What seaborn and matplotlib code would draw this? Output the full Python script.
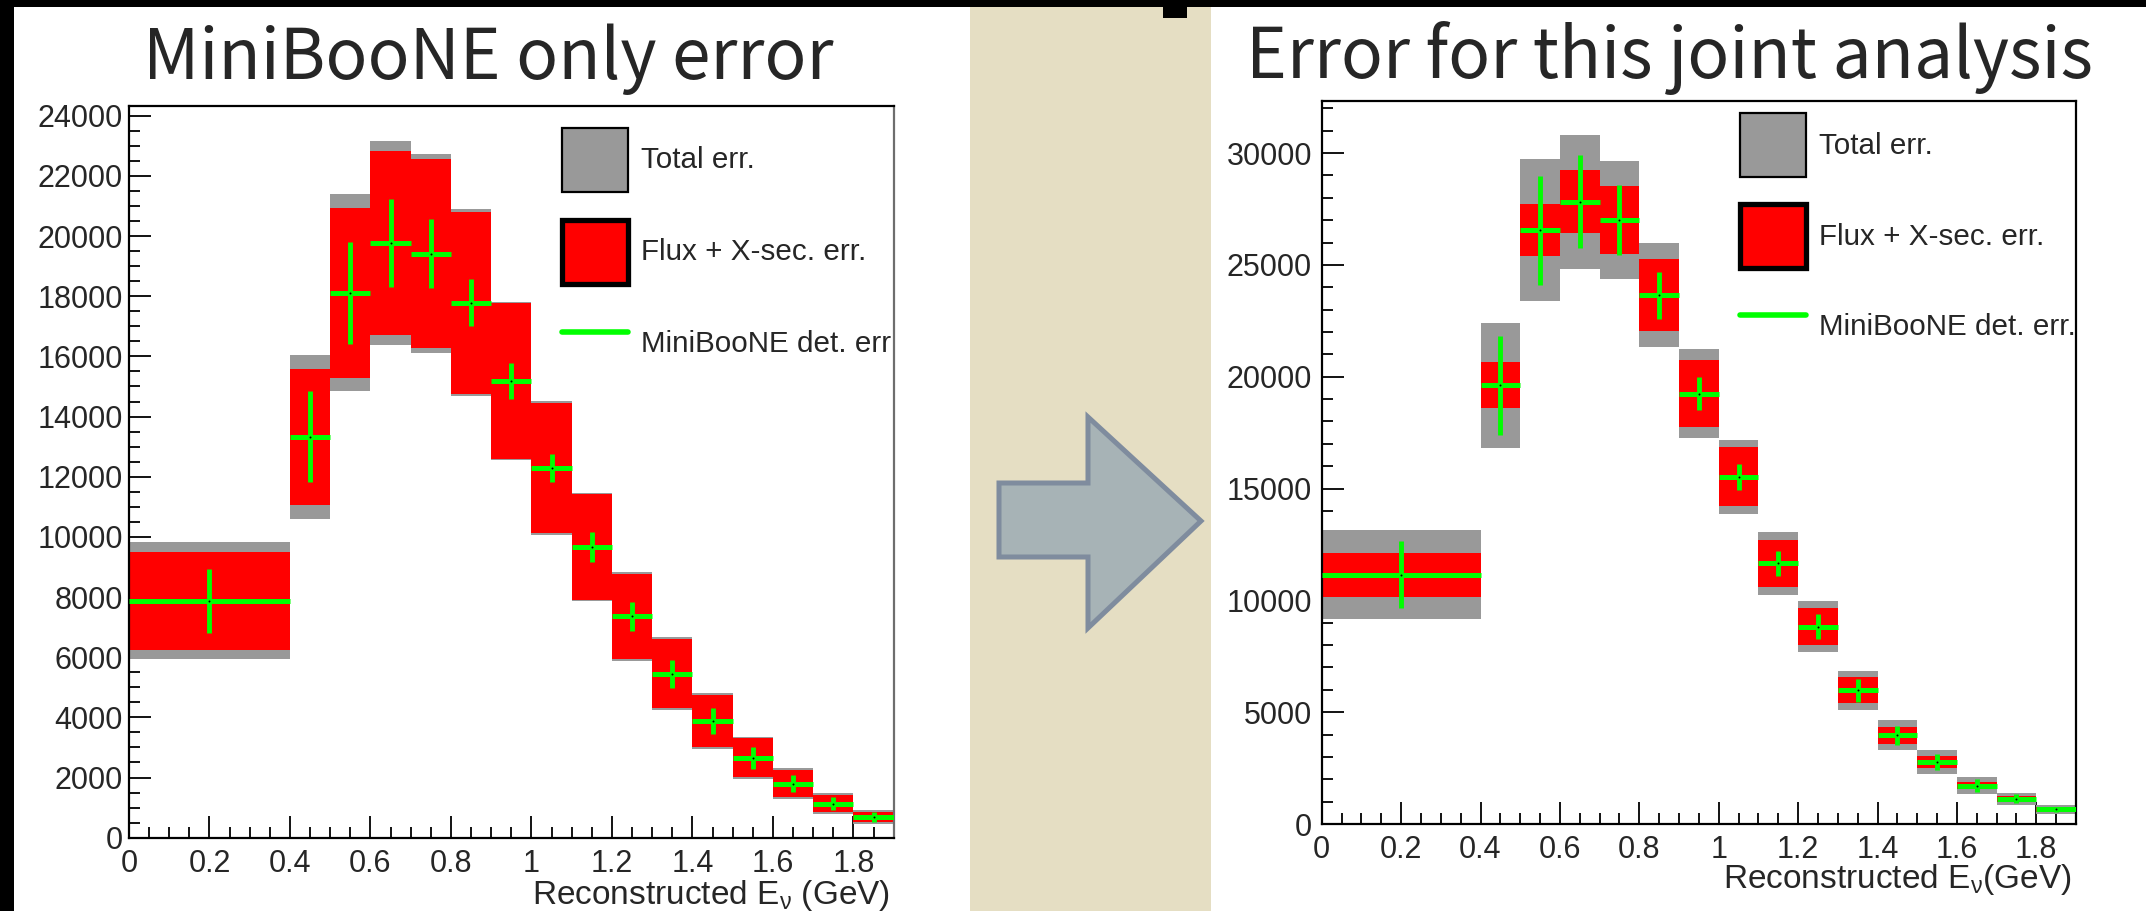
import numpy as np
import matplotlib
matplotlib.use("Agg")
import matplotlib.pyplot as plt
import seaborn as sns
from matplotlib.patches import Rectangle, Patch, Polygon
from matplotlib.lines import Line2D
from matplotlib.ticker import MultipleLocator, FuncFormatter

# ---------------- data ----------------
bin_edges = [0.0, 0.4, 0.5, 0.6, 0.7, 0.8, 0.9, 1.0, 1.1, 1.2, 1.3, 1.4, 1.5, 1.6, 1.7, 1.8, 1.9]

# MiniBooNE-only error budget (events per bin)
mb_events = [7870, 13330, 18120, 19765, 19420, 17790, 15180, 12290, 9660, 7355, 5450, 3885, 2650, 1800, 1135, 685]
mb_total_err = [1945, 2720, 3285, 3398, 3313, 3098, 2638, 2215, 1805, 1468, 1213, 933, 710, 526, 344, 233]
mb_flux_xsec_err = [1630, 2260, 2828, 3065, 3133, 3025, 2595, 2160, 1758, 1413, 1148, 860, 648, 454, 278, 171]
mb_det_err = [1070, 1508, 1695, 1468, 1143, 790, 593, 460, 488, 473, 473, 425, 359, 295, 212, 161]

# joint-analysis error budget (events per bin)
joint_events = [11155, 19615, 26550, 27825, 27010, 23645, 19250, 15525, 11650, 8828, 5985, 3965, 2775, 1720, 1125, 660]
joint_total_err = [1976, 2806, 3178, 2985, 2634, 2314, 1978, 1656, 1396, 1157, 866, 672, 537, 372, 261, 208]
joint_flux_xsec_err = [985, 1029, 1157, 1417, 1515, 1605, 1493, 1314, 1061, 844, 582, 387, 284, 172, 128, 112]
joint_det_err = [1507, 2207, 2447, 2073, 1557, 1045, 732, 573, 575, 560, 508, 417, 372, 276, 195, 119]

legend_labels_left = ["Total err.", "Flux + X-sec. err.", "MiniBooNE det. err"]
legend_labels_right = ["Total err.", "Flux + X-sec. err.", "MiniBooNE det. err."]
titles = ["MiniBooNE only error", "Error for this joint analysis"]
xlabels = ["Reconstructed E$_\\mathregular{\u03bd}$ (GeV)", "Reconstructed E$_\\mathregular{\u03bd}$(GeV)"]

# ---------------- style ----------------
sns.set_theme(style="ticks")
plt.rcParams["font.family"] = ["Liberation Sans", "DejaVu Sans"]
plt.rcParams["axes.linewidth"] = 1.5

W, H = 2146, 911
fig = plt.figure(figsize=(W / 100, H / 100), dpi=100)
fig.patch.set_facecolor("white")

GRAY = "#999999"
RED = "#ff0000"
GREEN = "#00ff00"


def fx(x):
    return x / W


def fy(y):
    return 1 - y / H


def add_rect(x0, y0, x1, y1, **kw):
    fig.add_artist(Rectangle((fx(x0), fy(y1)), fx(x1) - fx(x0), fy(y0) - fy(y1),
                             transform=fig.transFigure, **kw))


# slide decorations
add_rect(970, 0, 1211, H, facecolor="#e5dec3", edgecolor="none", zorder=0)
add_rect(0, 0, 14, H, facecolor="black", edgecolor="none", zorder=0)
add_rect(0, 0, W, 7, facecolor="black", edgecolor="none", zorder=0)
add_rect(1163, 0, 1187, 18, facecolor="black", edgecolor="none", zorder=0)
arrow_px = [(999, 483), (1088, 483), (1088, 417), (1201, 521), (1088, 628), (1088, 557), (999, 557)]
fig.add_artist(Polygon([(fx(x), fy(y)) for x, y in arrow_px], closed=True,
                       transform=fig.transFigure, facecolor="#a7b3b6",
                       edgecolor="#7f8c9e", linewidth=3.6, joinstyle="miter", zorder=1))


def add_axes_px(x0, y0, x1, y1):
    return fig.add_axes([fx(x0), fy(y1), fx(x1) - fx(x0), fy(y0) - fy(y1)])


def draw_panel(ax, events, total_err, flux_err, det_err, ymax, ymajor, yminor,
               legend_labels, legend_anchor, ylabel_pad, right_spine_color,
               label_spacing):
    edges = np.asarray(bin_edges)
    lo, hi = edges[:-1], edges[1:]
    width = hi - lo
    centers = 0.5 * (lo + hi)
    ev = np.asarray(events, float)
    tot = np.asarray(total_err, float)
    flx = np.asarray(flux_err, float)
    det = np.asarray(det_err, float)

    ax.bar(lo, 2 * tot, bottom=ev - tot, width=width, align="edge",
           color=GRAY, linewidth=0, zorder=1)
    ax.bar(lo, 2 * flx, bottom=ev - flx, width=width, align="edge",
           color=RED, linewidth=0, zorder=2)
    ax.hlines(ev, lo, hi, colors=GREEN, linewidth=3.6, zorder=3, capstyle="butt")
    ax.vlines(centers, ev - det, ev + det, colors=GREEN, linewidth=3.5, zorder=3,
              capstyle="butt")
    sns.scatterplot(x=centers, y=ev, ax=ax, color="black", s=2, linewidth=0,
                    legend=False, zorder=4)

    ax.set_xlim(0, 1.9)
    ax.set_ylim(0, ymax)
    ax.xaxis.set_major_locator(MultipleLocator(0.2))
    ax.xaxis.set_minor_locator(MultipleLocator(0.05))
    ax.yaxis.set_major_locator(MultipleLocator(ymajor))
    ax.yaxis.set_minor_locator(MultipleLocator(yminor))
    ax.xaxis.set_major_formatter(FuncFormatter(lambda v, p: "%g" % round(v, 3)))
    ax.yaxis.set_major_formatter(FuncFormatter(lambda v, p: "%d" % round(v)))
    ax.tick_params(which="major", direction="in", length=15.8, width=1.3,
                   labelsize=22, top=False, right=False, color="black")
    ax.tick_params(which="minor", direction="in", length=7.8, width=1.3,
                   top=False, right=False, color="black")
    ax.tick_params(axis="y", which="major", pad=ylabel_pad)
    ax.tick_params(axis="x", which="major", pad=8)
    for s in ax.spines.values():
        s.set_color("black")
        s.set_linewidth(1.6)
    ax.spines["right"].set_color(right_spine_color)
    ax.set_facecolor("white")
    ax.grid(False)

    handles = [
        Patch(facecolor=GRAY, edgecolor="black", linewidth=1.6, joinstyle="round"),
        Patch(facecolor=RED, edgecolor="black", linewidth=3.8, joinstyle="round"),
        Line2D([], [], color=GREEN, linewidth=4.0),
    ]
    ax.legend(handles, legend_labels, loc="upper left", bbox_to_anchor=legend_anchor,
              frameon=False, fontsize=21.3, handlelength=2.23, handleheight=2.95,
              handletextpad=0.44, labelspacing=label_spacing, borderpad=0,
              borderaxespad=0)


ax_l = add_axes_px(129, 105.7, 893.7, 837.7)
draw_panel(ax_l, mb_events, mb_total_err, mb_flux_xsec_err, mb_det_err,
           24335, 2000, 500, legend_labels_left, (0.5658, 0.970), 4.3, "#6e6e6e",
           0.95)

ax_r = add_axes_px(1321.7, 100.7, 2076, 824)
draw_panel(ax_r, joint_events, joint_total_err, joint_flux_xsec_err, joint_det_err,
           32344, 5000, 1000, legend_labels_right, (0.5546, 0.9826), 7.0, "black",
           0.9)

# axis titles (right-aligned under the x axis)
fig.text(fx(890), fy(904), xlabels[0], ha="right", va="baseline", fontsize=24)
fig.text(fx(2072), fy(888), xlabels[1], ha="right", va="baseline", fontsize=24)

# panel headings
title_font = ["Noto Sans CJK JP", "DejaVu Sans"]
fig.text(fx(488), fy(79), titles[0], ha="center", va="baseline", fontsize=50,
         family=title_font, weight="normal")
fig.text(fx(1669), fy(78), titles[1], ha="center", va="baseline", fontsize=50,
         family=title_font, weight="normal")

fig.savefig("out.png", dpi=100, facecolor=fig.get_facecolor())
